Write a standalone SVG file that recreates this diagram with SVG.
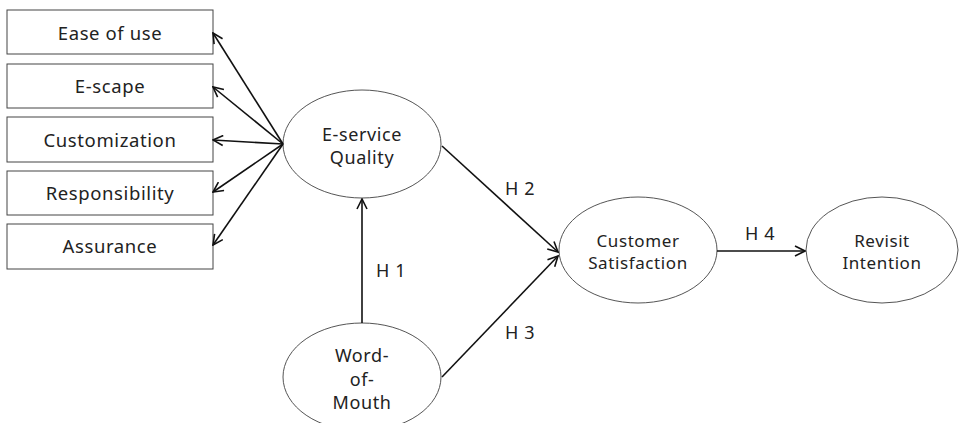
<svg xmlns="http://www.w3.org/2000/svg" width="959" height="423" viewBox="0 0 959 423">
<style>
.box{fill:#fff;stroke:#444;stroke-width:1}
.ell{fill:#fff;stroke:#555;stroke-width:1}
.t{font-family:"Noto Sans","Open Sans",sans-serif;font-size:18px;letter-spacing:0.6px;fill:#222;text-anchor:middle}
.bt{font-size:18.5px}
.s{font-size:17px}
.c{stroke:#111;stroke-width:1.6;fill:none;marker-end:url(#ah)}
</style>
<defs>
<marker id="ah" viewBox="0 0 12 12" refX="11" refY="6" markerWidth="12" markerHeight="12" markerUnits="userSpaceOnUse" orient="auto">
<path d="M1,1 L11,6 L1,11" fill="none" stroke="#111" stroke-width="1.6"/>
</marker>
</defs>
<rect width="959" height="423" fill="#fff"/>
<g id="ease"><rect class="box" x="7" y="10" width="206" height="44"/><text class="t bt" x="110" y="40">Ease of use</text></g>
<g id="escape"><rect class="box" x="7" y="64" width="206" height="44"/><text class="t bt" x="110" y="93">E-scape</text></g>
<g id="custom"><rect class="box" x="7" y="117" width="206" height="45"/><text class="t bt" x="110" y="147">Customization</text></g>
<g id="resp"><rect class="box" x="7" y="171" width="206" height="44"/><text class="t bt" x="110" y="200">Responsibility</text></g>
<g id="assur"><rect class="box" x="7" y="224" width="206" height="45"/><text class="t bt" x="110" y="253">Assurance</text></g>
<g id="esq"><ellipse class="ell" cx="362" cy="144" rx="79" ry="54"/><text class="t" x="362" y="141">E-service</text><text class="t" x="362" y="164">Quality</text></g>
<g id="wom"><ellipse class="ell" cx="362" cy="377" rx="79" ry="54"/><text class="t" x="362" y="362">Word-</text><text class="t" x="362" y="386">of-</text><text class="t" x="362" y="409">Mouth</text></g>
<g id="cs"><ellipse class="ell" cx="638" cy="250" rx="79" ry="53"/><text class="t s" x="638" y="247">Customer</text><text class="t s" x="638" y="269">Satisfaction</text></g>
<g id="ri"><ellipse class="ell" cx="882" cy="250" rx="76" ry="53"/><text class="t s" x="882" y="247">Revisit</text><text class="t s" x="882" y="269">Intention</text></g>
<g id="connectors">
<line class="c" x1="283" y1="144" x2="213" y2="33"/>
<line class="c" x1="283" y1="144" x2="213" y2="87"/>
<line class="c" x1="283" y1="144" x2="213" y2="140"/>
<line class="c" x1="283" y1="144" x2="213" y2="192"/>
<line class="c" x1="283" y1="144" x2="213" y2="245"/>
<line class="c" x1="362" y1="323" x2="362" y2="199"/>
<line class="c" x1="442" y1="146" x2="558" y2="252"/>
<line class="c" x1="442" y1="377" x2="558" y2="256"/>
<line class="c" x1="717" y1="251" x2="805" y2="251"/>
<text class="t" x="520" y="195">H 2</text>
<text class="t" x="391" y="277">H 1</text>
<text class="t" x="520" y="339">H 3</text>
<text class="t" x="760" y="240">H 4</text>
</g>
</svg>
